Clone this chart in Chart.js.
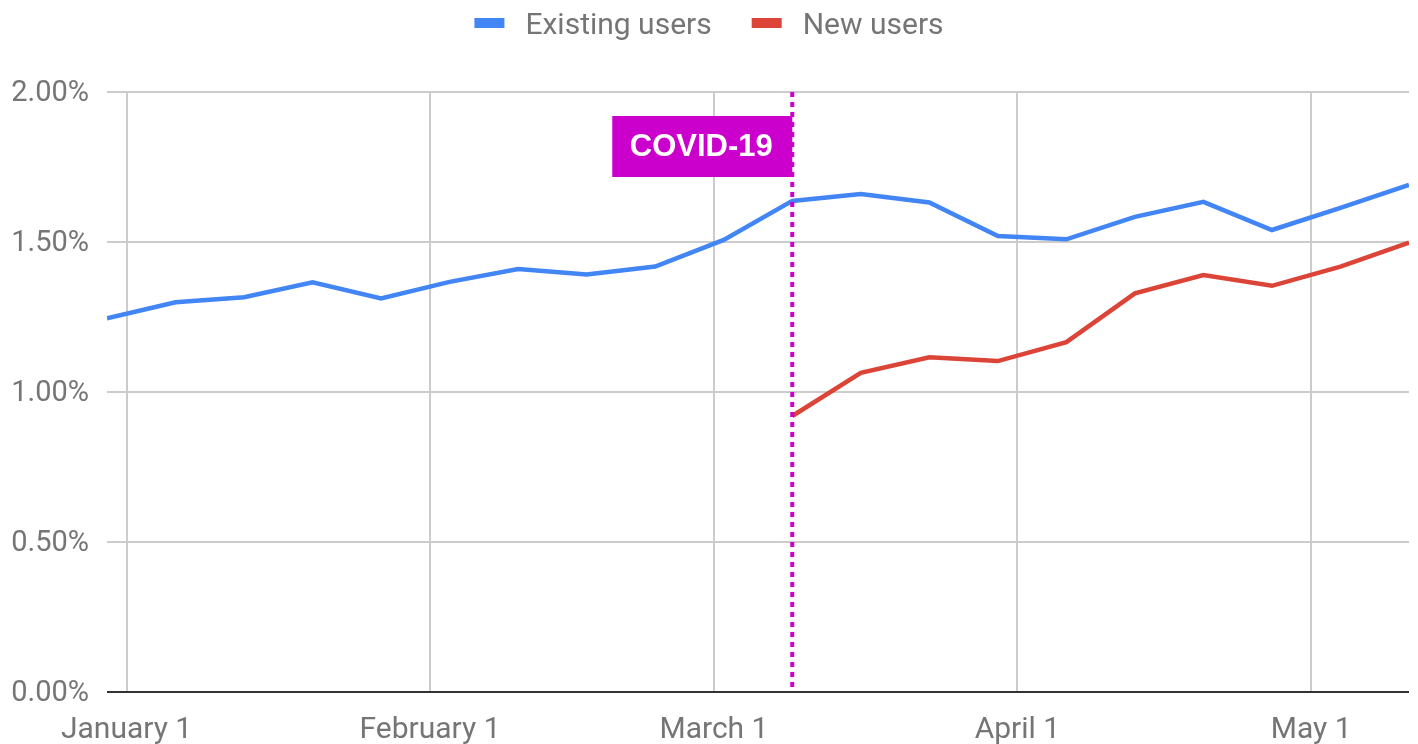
<!DOCTYPE html>
<html>
<head>
<meta charset="utf-8">
<script src="https://cdn.jsdelivr.net/npm/chart.js@4.4.1/dist/chart.umd.min.js"></script>
<style>
  html, body { margin: 0; padding: 0; background: #fff; }
  #wrap { width: 1418px; height: 744px; }
</style>
</head>
<body>
<div id="wrap"><canvas id="usersChart" width="1418" height="744"></canvas></div>
<script>
// weekly points (Mondays)
const weeks = ['2019-12-30', '2020-01-06', '2020-01-13', '2020-01-20', '2020-01-27',
               '2020-02-03', '2020-02-10', '2020-02-17', '2020-02-24', '2020-03-02',
               '2020-03-09', '2020-03-16', '2020-03-23', '2020-03-30', '2020-04-06',
               '2020-04-13', '2020-04-20', '2020-04-27', '2020-05-04', '2020-05-11'];
const existingUsers = [1.246, 1.299, 1.316, 1.366, 1.312, 1.367, 1.410, 1.392, 1.418, 1.507,
                       1.637, 1.660, 1.632, 1.520, 1.509, 1.584, 1.634, 1.540, 1.614, 1.690];
const newUsers = [null, null, null, null, null, null, null, null, null, null,
                  0.920, 1.064, 1.116, 1.103, 1.166, 1.329, 1.390, 1.354, 1.418, 1.498];
const seriesNames = ['Existing users', 'New users'];
const seriesColors = ['#4285f4', '#db4437'];
const monthTicks = ['2020-01-01', '2020-02-01', '2020-03-01', '2020-04-01', '2020-05-01'];
const monthLabels = ['January 1', 'February 1', 'March 1', 'April 1', 'May 1'];
const yTicks = [0, 0.5, 1, 1.5, 2];
const eventDate = '2020-03-09';
const eventLabel = 'COVID-19';

const textGray = '#757575';

function dayOf(s) {
    const p = s.split('-').map(Number);
    return (Date.UTC(p[0], p[1] - 1, p[2]) - Date.UTC(2020, 0, 1)) / 86400000;
}

const monthDays = monthTicks.map(dayOf);
const allSeries = [existingUsers, newUsers];

// legend drawn at the top, google style
const topLegend = {
    id: 'topLegend',
    afterDraw(chart) {
        const ctx = chart.ctx;
        ctx.save();
        ctx.font = '30px Roboto';
        const items = chart.data.datasets.map(ds => ({
            text: ds.label, color: ds.borderColor, w: ctx.measureText(ds.label).width
        }));
        const total = items.reduce((s, it) => s + 51 + it.w, 0) + 40 * (items.length - 1);
        let x = (chart.width - total) / 2;
        ctx.textBaseline = 'middle';
        items.forEach(it => {
            ctx.fillStyle = it.color;
            ctx.fillRect(x, 18, 30, 10);
            ctx.fillStyle = textGray;
            ctx.fillText(it.text, x + 51, 26);
            x += 51 + it.w + 40;
        });
        ctx.restore();
    }
};

// dotted marker line + label box
const eventMarker = {
    id: 'eventMarker',
    afterDatasetsDraw(chart) {
        const {ctx, chartArea, scales} = chart;
        const x = scales.x.getPixelForValue(dayOf(eventDate));
        ctx.save();
        ctx.strokeStyle = '#cc00cc';
        ctx.lineWidth = 4;
        ctx.setLineDash([5, 5]);
        ctx.beginPath();
        ctx.moveTo(x, chartArea.top);
        ctx.lineTo(x, chartArea.bottom);
        ctx.stroke();
        ctx.setLineDash([]);
        ctx.fillStyle = '#cc00cc';
        ctx.fillRect(x - 180, chartArea.top + 24, 180, 61);
        ctx.fillStyle = '#ffffff';
        ctx.font = 'bold 31px "Liberation Sans", Arial, sans-serif';
        ctx.textAlign = 'center';
        ctx.textBaseline = 'middle';
        ctx.fillText(eventLabel, x - 91, chartArea.top + 55);
        ctx.restore();
    }
};

const ctx = document.getElementById('usersChart').getContext('2d');
new Chart(ctx, {
    type: 'line',
    data: {
        datasets: seriesNames.map((name, i) => ({
            label: name,
            data: weeks.map((w, j) => ({x: dayOf(w), y: allSeries[i][j]})),
            borderColor: seriesColors[i],
            backgroundColor: seriesColors[i],
            borderWidth: 4.5,
            pointRadius: 0,
            pointHoverRadius: 0,
            tension: 0,
            spanGaps: false
        }))
    },
    options: {
        responsive: false,
        animation: false,
        layout: {padding: {top: 92, right: 9, bottom: 0, left: 0}},
        plugins: {
            legend: {display: false},
            tooltip: {enabled: false}
        },
        scales: {
            x: {
                type: 'linear',
                min: dayOf(weeks[0]),
                max: dayOf(weeks[weeks.length - 1]),
                afterBuildTicks: s => { s.ticks = monthDays.map(v => ({value: v})); },
                afterFit: s => { s.height = 52; },
                ticks: {
                    autoSkip: false,
                    maxRotation: 0,
                    padding: 20,
                    color: textGray,
                    font: {family: 'Roboto', size: 30},
                    callback: v => monthLabels[monthDays.indexOf(v)]
                },
                grid: {color: '#cccccc', lineWidth: 2, drawTicks: false},
                border: {display: false}
            },
            y: {
                min: yTicks[0],
                max: yTicks[yTicks.length - 1],
                afterBuildTicks: s => { s.ticks = yTicks.map(v => ({value: v})); },
                afterFit: s => { s.width = 107; },
                ticks: {
                    padding: 18,
                    labelOffset: 2,
                    color: textGray,
                    font: {family: 'Roboto', size: 29},
                    callback: v => v.toFixed(2) + '%'
                },
                grid: {
                    color: c => (c.tick && c.tick.value === 0 ? '#333333' : '#cccccc'),
                    lineWidth: 2,
                    drawTicks: false
                },
                border: {display: false}
            }
        }
    },
    plugins: [topLegend, eventMarker]
});
</script>
</body>
</html>
